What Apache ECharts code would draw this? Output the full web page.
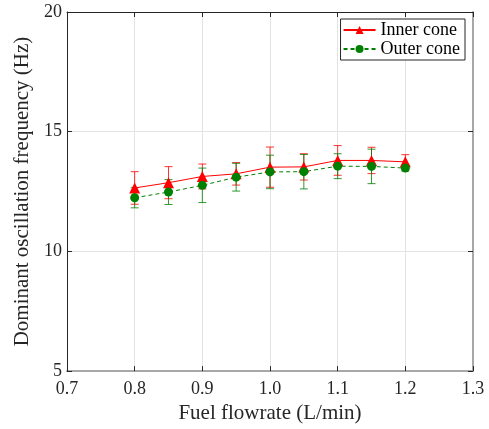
<!DOCTYPE html>
<html>
<head>
<meta charset="utf-8">
<script src="https://cdn.jsdelivr.net/npm/echarts@6/dist/echarts.min.js"></script>
<style>
  html, body { margin: 0; padding: 0; background: #fff; }
  #chart { width: 489px; height: 429px; }
</style>
</head>
<body>
<div id="chart"></div>
<script>
// fuel flowrate (L/min)
var flowrate = [0.8, 0.85, 0.9, 0.95, 1.0, 1.05, 1.1, 1.15, 1.2]
// inner cone: mean and error (Hz)
var innerMean = [12.65, 12.87, 13.13, 13.24, 13.52, 13.53, 13.80, 13.80, 13.74]
var innerErr = [0.68, 0.67, 0.52, 0.47, 0.84, 0.55, 0.62, 0.55, 0.30]
// outer cone: mean and error (Hz)
var outerMean = [12.24, 12.48, 12.76, 13.10, 13.32, 13.33, 13.56, 13.55, 13.48]
var outerErr = [0.42, 0.52, 0.72, 0.58, 0.70, 0.72, 0.52, 0.72, 0.12]

var serifFont = "'Liberation Serif', 'DejaVu Serif', serif"

function pairs (xs, ys) {
  return xs.map(function (x, i) { return [x, ys[i]] })
}
function errData (xs, m, e) {
  return xs.map(function (x, i) { return [x, m[i] - e[i], m[i] + e[i]] })
}

// 误差棒
function errorBarItem (color) {
  return function (params, api) {
    var x = api.value(0)
    var lo = api.coord([x, api.value(1)])
    var hi = api.coord([x, api.value(2)])
    var w = 4
    var st = { stroke: color, lineWidth: 1, opacity: 0.8 }
    return {
      type: 'group',
      children: [
        { type: 'line', shape: { x1: lo[0], y1: lo[1], x2: hi[0], y2: hi[1] }, style: st },
        { type: 'line', shape: { x1: lo[0] - w, y1: lo[1], x2: lo[0] + w, y2: lo[1] }, style: st },
        { type: 'line', shape: { x1: hi[0] - w, y1: hi[1], x2: hi[0] + w, y2: hi[1] }, style: st }
      ]
    }
  }
}

var myChart = echarts.init(document.getElementById('chart'))
myChart.setOption({
  animation: false,
  grid: { left: 67, top: 12, right: 16, bottom: 56 },
  legend: {
    data: ['Inner cone', 'Outer cone'],
    orient: 'vertical',
    right: 24,
    top: 19,
    itemWidth: 32,
    itemHeight: 10,
    itemGap: 1,
    padding: [2, 5, 2, 2],
    backgroundColor: '#fff',
    borderColor: '#262626',
    borderWidth: 1,
    textStyle: { fontFamily: serifFont, fontSize: 18, color: '#000' }
  },
  xAxis: [
    {
      type: 'value', min: 0.7, max: 1.3, interval: 0.1,
      name: 'Fuel flowrate (L/min)',
      nameLocation: 'middle',
      nameGap: 29,
      nameTextStyle: { fontFamily: serifFont, fontSize: 21, color: '#262626' },
      axisLine: { show: true, lineStyle: { color: '#a8a8a8', width: 2 } },
      axisTick: { show: true, inside: true, length: 5, lineStyle: { color: '#262626' } },
      axisLabel: {
        margin: 9,
        fontFamily: serifFont, fontSize: 18, color: '#262626',
        formatter: function (v) { return v.toFixed(1) }
      },
      splitLine: { show: true, lineStyle: { color: '#e3e3e3' } }
    },
    {
      type: 'value', min: 0.7, max: 1.3, interval: 0.1,
      position: 'top',
      axisLine: { show: true, lineStyle: { color: '#262626', width: 1 } },
      axisTick: { show: true, inside: true, length: 5, lineStyle: { color: '#262626' } },
      axisLabel: { show: false },
      splitLine: { show: false }
    }
  ],
  yAxis: [
    {
      type: 'value', min: 5, max: 20, interval: 5,
      name: 'Dominant oscillation frequency (Hz)',
      nameLocation: 'middle',
      nameGap: 28,
      nameTextStyle: { fontFamily: serifFont, fontSize: 21, color: '#262626' },
      axisLine: { show: true, lineStyle: { color: '#262626', width: 1 } },
      axisTick: { show: true, inside: true, length: 5, lineStyle: { color: '#262626' } },
      axisLabel: { margin: 5, fontFamily: serifFont, fontSize: 18, color: '#262626' },
      splitLine: { show: true, lineStyle: { color: '#e3e3e3' } }
    },
    {
      type: 'value', min: 5, max: 20, interval: 5,
      position: 'right',
      axisLine: { show: true, lineStyle: { color: '#a8a8a8', width: 2 } },
      axisTick: { show: true, inside: true, length: 5, lineStyle: { color: '#262626' } },
      axisLabel: { show: false },
      splitLine: { show: false }
    }
  ],
  series: [
    {
      name: 'Inner cone err',
      type: 'custom',
      renderItem: errorBarItem('#ff0000'),
      encode: { x: 0, y: [1, 2] },
      data: errData(flowrate, innerMean, innerErr)
    },
    {
      name: 'Inner cone',
      type: 'line',
      color: '#ff0000',
      symbol: 'triangle',
      symbolSize: 11,
      lineStyle: { color: '#ff0000', width: 1 },
      itemStyle: { color: '#ff0000' },
      data: pairs(flowrate, innerMean)
    },
    {
      name: 'Outer cone err',
      type: 'custom',
      renderItem: errorBarItem('#008000'),
      encode: { x: 0, y: [1, 2] },
      data: errData(flowrate, outerMean, outerErr)
    },
    {
      name: 'Outer cone',
      type: 'line',
      color: '#008000',
      symbol: 'circle',
      symbolSize: 9,
      lineStyle: { color: '#008000', width: 1, type: [4, 3] },
      itemStyle: { color: '#008000' },
      data: pairs(flowrate, outerMean)
    }
  ]
})
</script>
</body>
</html>
